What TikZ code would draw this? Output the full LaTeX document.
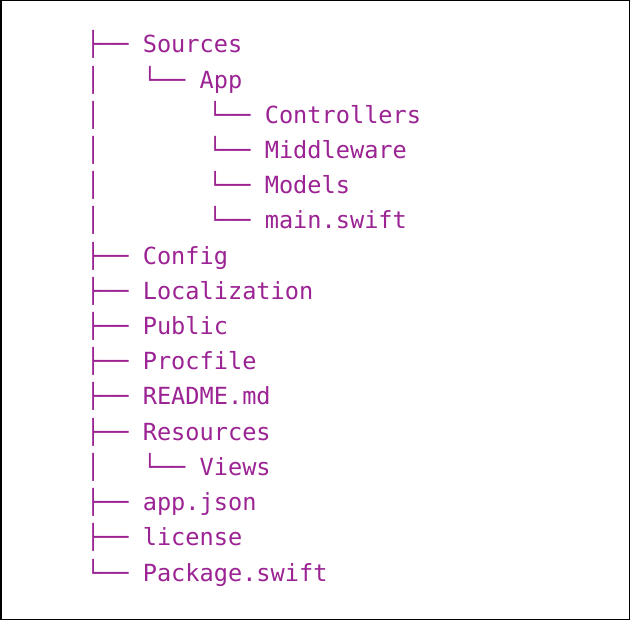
\documentclass[tikz,border=0pt]{standalone}
\usepackage{fontspec}
\newfontfamily\treemono{DejaVu Sans Mono}
\definecolor{treepurple}{HTML}{9B2393}
\begin{document}
\begin{tikzpicture}[x=1pt,y=-1pt,
  row/.style={anchor=base west,inner sep=0pt,outer sep=0pt,text=treepurple,
    font=\treemono\fontsize{23.6}{28}\selectfont}]
\useasboundingbox (0,0) rectangle (630,620);
\draw[line width=1.5pt,black] (0.75,0.75) rectangle (629.25,619.25);
\def\xa{86}
\def\xm{142.8}
\def\xb{208}
\node[row] (r0)  at (\xa, 53.0) {├── Sources};
\node[row] (v1)  at (\xa, 88.2) {│};
\node[row] (r1)  at (\xm, 88.2) {└── App};
\node[row] (v2)  at (\xa,123.4) {│};
\node[row] (r2)  at (\xb,123.4) {└── Controllers};
\node[row] (v3)  at (\xa,158.6) {│};
\node[row] (r3)  at (\xb,158.6) {└── Middleware};
\node[row] (v4)  at (\xa,193.8) {│};
\node[row] (r4)  at (\xb,193.8) {└── Models};
\node[row] (v5)  at (\xa,229.0) {│};
\node[row] (r5)  at (\xb,229.0) {└── main.swift};
\node[row] (r6)  at (\xa,264.2) {├── Config};
\node[row] (r7)  at (\xa,299.4) {├── Localization};
\node[row] (r8)  at (\xa,334.6) {├── Public};
\node[row] (r9)  at (\xa,369.8) {├── Procfile};
\node[row] (r10) at (\xa,405.0) {├── README.md};
\node[row] (r11) at (\xa,440.2) {├── Resources};
\node[row] (v12) at (\xa,475.4) {│};
\node[row] (r12) at (\xm,475.4) {└── Views};
\node[row] (r13) at (\xa,510.6) {├── app.json};
\node[row] (r14) at (\xa,545.8) {├── license};
\node[row] (r15) at (\xa,581.0) {└── Package.swift};
\end{tikzpicture}
\end{document}
